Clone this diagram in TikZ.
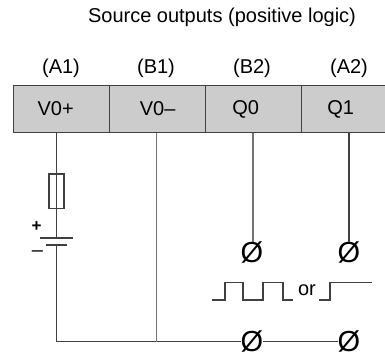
\documentclass[tikz,border=0pt]{standalone}
\usepackage{fontspec}
\setmainfont{Liberation Sans}
\tikzset{
  x=1pt,y=-1pt,
  cell/.style={draw=black!75,fill=black!20,line width=1.25pt,minimum height=47pt,inner sep=0pt,font=\fontsize{20}{22}\selectfont,anchor=west},
  pin/.style={inner sep=0pt,font=\fontsize{20}{22}\selectfont,text=black},
  wire/.style={draw=black!75,line width=1.25pt},
  wirelt/.style={draw=black!55,line width=1.3pt},
  term/.style={rectangle,inner sep=0pt,font=\fontsize{29}{31}\selectfont},
  sign/.style={inner sep=0pt,font=\fontsize{17}{19}\bfseries\selectfont},
  small/.style={inner sep=0pt,font=\fontsize{20}{22}\selectfont}
}
\begin{document}
\begin{tikzpicture}
\useasboundingbox (0,0) rectangle (385,356);
\node[pin] (title) at (222,17) {Source outputs (positive logic)};
\node[pin] (a1) at (61,68) {(A1)};
\node[pin] (b1) at (156,68) {(B1)};
\node[pin] (b2) at (252,68) {(B2)};
\node[pin] (a2) at (349,68) {(A2)};
\node[cell,minimum width=95.5pt] (c1) at (13,109) {\hspace{-11.5pt}V0+};
\node[cell,minimum width=96pt] (c2) at (108.5,109) {\hspace{1pt}V0–};
\node[cell,minimum width=96.5pt] (c3) at (204.5,109) {\hspace{-15.5pt}Q0};
\node[cell,minimum width=90pt] (c4) at (301,109) {\hspace{-12pt}Q1};
\coordinate (w1) at (56.5,132.5);
\coordinate (w2) at (156.5,132.5);
\coordinate (w3) at (253,132.5);
\coordinate (w4) at (349,132.5);
\node[draw=black!75,line width=1.25pt,minimum width=15pt,minimum height=34.5pt,inner sep=0pt] (fuse) at (56.5,191.3) {};
\coordinate (bp) at (56.5,238);
\coordinate (bm) at (56.5,245);
\coordinate (corner) at (56.5,341.7);
\draw[draw=black!75,line width=1.5pt] (40,238) -- (73,238);
\draw[draw=black!75,line width=1.2pt] (46,245) -- (67,245);
\node[sign] (plus) at (36.5,227) {+};
\node[sign,font=\fontsize{20}{22}\selectfont] (minus) at (37.5,254) {–};
\node[term] (t1) at (252,252.5) {Ø};
\node[term] (t2) at (349,252.5) {Ø};
\node[term] (t3) at (252,341.2) {Ø};
\node[term] (t4) at (349,341.2) {Ø};
\draw[wire] (w1) -- (bp);
\draw[wire] (bm) -- (corner) -- (t3.west |- corner);
\draw[wire] (t3.east |- corner) -- (t4.west |- corner);
\draw[wirelt] (w2) -- (156.5,341.7);
\draw[wirelt] (w3) -- (w3 |- t1.north);
\draw[wire] (w4) -- (t2);
\draw[wire] (212,300) -- (225,300) -- (225,282.7) -- (243,282.7) -- (243,300) -- (263,300) -- (263,282.7) -- (283,282.7) -- (283,300) -- (293,300);
\node[small] (or) at (307,290) {or};
\draw[wire] (319,300) -- (330,300) -- (330,282.7) -- (372,282.7);
\end{tikzpicture}
\end{document}
